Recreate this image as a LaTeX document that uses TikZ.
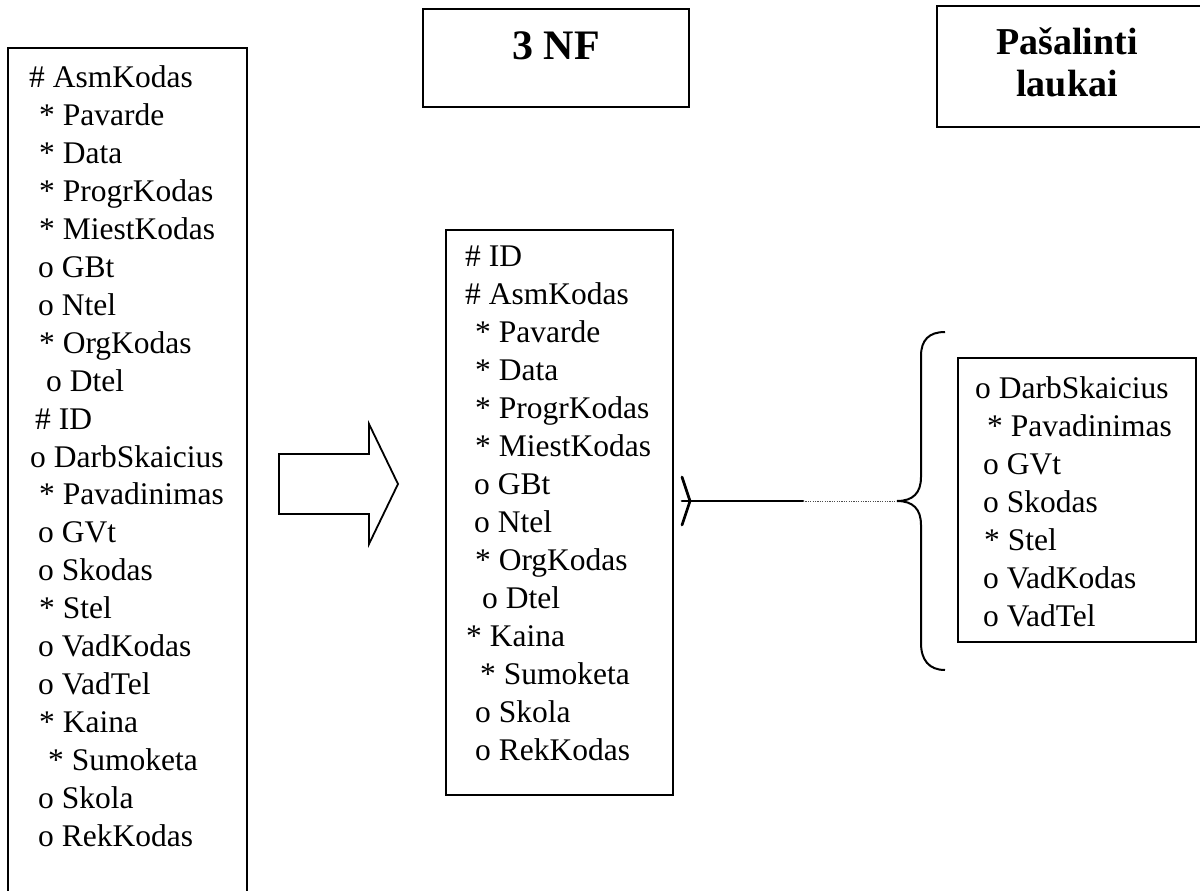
\documentclass[tikz,border=0pt]{standalone}
\usepackage{fontspec}
\setmainfont{Liberation Serif}
\begin{document}
\begin{tikzpicture}[x=1pt,y=-1pt,
  boxline/.style={draw, line width=2.2pt, rectangle, inner sep=0pt, outer sep=0pt, anchor=north west},
  item/.style={anchor=base west, inner sep=0pt, font=\fontsize{31.5}{38}\selectfont},
  ttl/.style={anchor=base, inner sep=0pt},
  rel/.style={line width=2.7pt, line cap=round, line join=round},
]
\useasboundingbox (0,0) rectangle (1200,891);

% boxes
\node[boxline, minimum width=239pt, minimum height=870pt] (srcbox) at (8,48) {};
\node[boxline, minimum width=266pt, minimum height=98pt] (nfbox) at (423,9) {};
\node[boxline, minimum width=266pt, minimum height=121pt] (rmbox) at (937,6) {};
\node[boxline, minimum width=227pt, minimum height=565pt] (nfrel) at (446,230) {};
\node[boxline, minimum width=238pt, minimum height=284pt] (rmrel) at (958,358) {};

% titles
\node[ttl, font=\bfseries\fontsize{42}{48}\selectfont] (nftitle) at (556,60) {3 NF};
\node[ttl, font=\bfseries\fontsize{38}{42}\selectfont] (rmtitle) at (1067,55)
  {\begin{tabular}[t]{@{}c@{}}Pašalinti\\laukai\end{tabular}};

% attribute lists
\foreach \x/\t [count=\i] in {29/{\# AsmKodas}, 39/{* Pavarde}, 39/{* Data},
  39/{* ProgrKodas}, 39/{* MiestKodas}, 38/{o GBt}, 38/{o Ntel}, 39/{* OrgKodas},
  46/{o Dtel}, 35/{\# ID}, 30/{o DarbSkaicius}, 39/{* Pavadinimas}, 38/{o GVt},
  38/{o Skodas}, 39/{* Stel}, 38/{o VadKodas}, 38/{o VadTel}, 39/{* Kaina},
  48/{* Sumoketa}, 38/{o Skola}, 38/{o RekKodas}}
  \node[item] (src\i) at (\x, 88+37.9*\i-37.9) {\t};

\foreach \x/\t [count=\i] in {465/{\# ID}, 465/{\# AsmKodas}, 475/{* Pavarde},
  475/{* Data}, 475/{* ProgrKodas}, 475/{* MiestKodas}, 474/{o GBt}, 474/{o Ntel},
  475/{* OrgKodas}, 482/{o Dtel}, 466/{* Kaina}, 480/{* Sumoketa}, 475/{o Skola},
  475/{o RekKodas}}
  \node[item] (nf\i) at (\x, 266+38*\i-38) {\t};

\foreach \x/\t [count=\i] in {975/{o DarbSkaicius}, 987/{* Pavadinimas}, 983/{o GVt},
  983/{o Skodas}, 984/{* Stel}, 983/{o VadKodas}, 983/{o VadTel}}
  \node[item] (rm\i) at (\x, 398+38*\i-38) {\t};

% block arrow between the two relations
\draw[line width=1.8pt, line join=miter]
  (279,454) -- (369,454) -- (369,424) -- (398,484) -- (369,544) -- (369,514) -- (279,514) -- cycle;

% relationship line with crow's foot
\coordinate (foot) at (682,501);
\coordinate (solidend) at (803,501);
\coordinate (bracetip) at (897,501);
\draw[rel] (foot) -- (solidend);
\draw[rel] ([shift={(0,-24)}]foot) -- ([shift={(8,0)}]foot) -- ([shift={(0,24)}]foot);
\draw[line width=1pt, dash pattern=on 1.2pt off 1.2pt, black!70] (solidend) -- (bracetip);

% brace grouping the removed fields
\draw[line width=2pt]
  (945,332) .. controls (929,332) and (921,340) .. (921,356) -- (921,477)
  .. controls (921,493) and (913,501) .. (bracetip)
  .. controls (913,501) and (921,509) .. (921,525) -- (921,643)
  .. controls (921,660) and (929,670) .. (945,670);
\end{tikzpicture}
\end{document}
